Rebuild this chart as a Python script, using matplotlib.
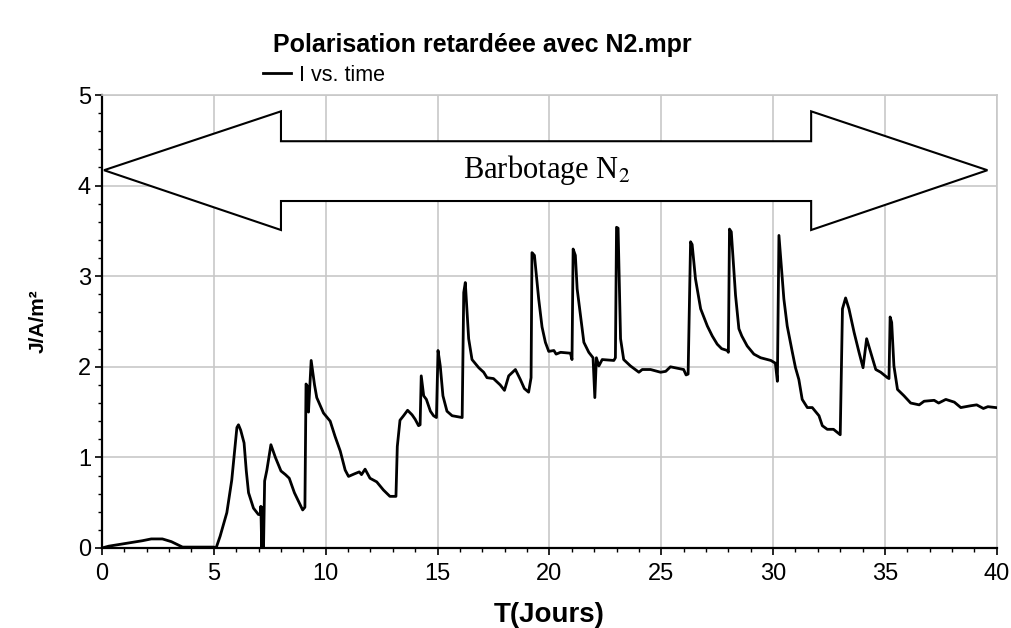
import matplotlib
matplotlib.use("Agg")
import matplotlib.pyplot as plt
from matplotlib.patches import Polygon
from matplotlib.ticker import MultipleLocator

t_days = [0.0, 0.3, 0.8, 1.3, 1.8, 2.2, 2.7, 3.1, 3.6, 4.0, 5.0, 5.1, 5.28, 5.58, 5.8, 6.03, 6.1, 6.2,
          6.35, 6.45, 6.55, 6.77, 6.99, 7.08, 7.1, 7.14, 7.18, 7.22, 7.27, 7.37, 7.55, 7.75, 8.0, 8.2,
          8.37, 8.6, 8.97, 9.07, 9.12, 9.2, 9.23, 9.35, 9.5, 9.6, 9.9, 10.2, 10.42, 10.65, 10.87, 11.02,
          11.3, 11.5, 11.6, 11.76, 11.98, 12.28, 12.58, 12.87, 13.14, 13.2, 13.32, 13.48, 13.66, 13.86,
          14.0, 14.15, 14.22, 14.27, 14.38, 14.5, 14.68, 14.82, 14.95, 15.02, 15.12, 15.24, 15.42, 15.65,
          16.1, 16.17, 16.24, 16.32, 16.39, 16.54, 16.84, 17.06, 17.21, 17.5, 17.8, 17.99, 18.18, 18.48,
          18.7, 18.88, 19.07, 19.18, 19.22, 19.33, 19.52, 19.67, 19.82, 19.97, 20.2, 20.3, 20.5, 20.94,
          21.01, 21.06, 21.16, 21.24, 21.39, 21.54, 21.76, 21.95, 22.03, 22.1, 22.21, 22.36, 22.88, 22.95,
          23.0, 23.07, 23.18, 23.32, 23.62, 24.0, 24.15, 24.52, 24.97, 25.2, 25.41, 26.0, 26.11, 26.2,
          26.31, 26.38, 26.53, 26.76, 27.06, 27.28, 27.5, 27.7, 27.95, 28.0, 28.05, 28.13, 28.32, 28.47,
          28.6, 28.84, 29.14, 29.44, 29.9, 30.1, 30.19, 30.26, 30.33, 30.48, 30.63, 30.86, 31.0, 31.15,
          31.3, 31.53, 31.75, 32.05, 32.2, 32.42, 32.7, 33.0, 33.1, 33.24, 33.39, 33.62, 33.84, 34.02,
          34.18, 34.36, 34.59, 34.81, 35.11, 35.18, 35.23, 35.3, 35.4, 35.56, 35.85, 36.15, 36.53, 36.75,
          37.2, 37.4, 37.72, 38.1, 38.39, 38.83, 39.1, 39.4, 39.6, 39.95]
j_values = [0.0, 0.02, 0.04, 0.06, 0.08, 0.10, 0.10, 0.07, 0.01, 0.01, 0.01, 0.0, 0.13, 0.39, 0.75, 1.33, 1.36, 1.30,
            1.16, 0.85, 0.61, 0.44, 0.37, 0.37, 0.46, 0.0, 0.45, 0.0, 0.74, 0.86, 1.14, 1.00, 0.85, 0.81,
            0.77, 0.61, 0.42, 0.45, 1.81, 1.78, 1.50, 2.07, 1.80, 1.66, 1.49, 1.40, 1.23, 1.07, 0.86, 0.79,
            0.82, 0.84, 0.81, 0.87, 0.77, 0.73, 0.64, 0.57, 0.57, 1.12, 1.41, 1.46, 1.52, 1.47,
            1.42, 1.35, 1.36, 1.90, 1.68, 1.64, 1.51, 1.46, 1.44, 2.18, 2.01, 1.68, 1.51, 1.46,
            1.44, 2.82, 2.93, 2.60, 2.31, 2.08, 1.99, 1.94, 1.88, 1.87, 1.80, 1.74, 1.90, 1.97,
            1.86, 1.76, 1.72, 1.88, 3.26, 3.23, 2.75, 2.44, 2.27, 2.17, 2.18, 2.14, 2.16, 2.15,
            2.08, 3.30, 3.23, 2.86, 2.56, 2.27, 2.16, 2.10, 1.66, 2.10, 2.01, 2.08, 2.07, 2.10,
            3.54, 3.53, 2.31, 2.08, 2.01, 1.94, 1.97, 1.97, 1.94, 1.95, 2.00, 1.97, 1.91, 1.92,
            3.38, 3.35, 2.97, 2.64, 2.45, 2.34, 2.25, 2.20, 2.18, 2.16, 3.52, 3.49, 2.79, 2.42,
            2.34, 2.23, 2.14, 2.10, 2.07, 2.04, 1.84, 3.45, 3.23, 2.75, 2.45, 2.16, 1.99, 1.86,
            1.64, 1.55, 1.55, 1.46, 1.35, 1.31, 1.31, 1.25, 2.64, 2.76, 2.64, 2.38, 2.16, 1.99,
            2.31, 2.16, 1.97, 1.94, 1.88, 1.87, 2.55, 2.49, 2.01, 1.75, 1.68, 1.60, 1.58, 1.62,
            1.63, 1.60, 1.64, 1.61, 1.55, 1.57, 1.58, 1.54, 1.56, 1.55]

# Double arrow annotation outline (data coordinates)
arrow_x = [0.09, 8.0, 8.0, 31.7, 31.7, 39.58, 31.7, 31.7, 8.0, 8.0]
arrow_y = [4.17, 4.82, 4.49, 4.49, 4.82, 4.17, 3.51, 3.83, 3.83, 3.51]

x_ticks = [0, 5, 10, 15, 20, 25, 30, 35, 40]
y_ticks = [0, 1, 2, 3, 4, 5]

plt.rcParams['font.family'] = ['Liberation Sans', 'DejaVu Sans']

fig = plt.figure(figsize=(10.12, 6.28), dpi=100)
ax = fig.add_axes([0.1008, 0.1274, 0.8842, 0.7213])

ax.plot(t_days, j_values, color='black', lw=2.0, label='I vs. time', zorder=4)

poly = Polygon(list(zip(arrow_x, arrow_y)), closed=True, facecolor='white',
               edgecolor='black', lw=1.5, zorder=3)
ax.add_patch(poly)
ax.text(19.9, 4.17, r'Barbotage N$_2$', fontsize=22, family='Liberation Serif',
        ha='center', va='center', zorder=5, math_fontfamily='stix')

ax.set_xlim(0, 40)
ax.set_ylim(0, 5)
ax.set_xticks(x_ticks)
ax.set_yticks(y_ticks)
ax.xaxis.set_minor_locator(MultipleLocator(1))
ax.yaxis.set_minor_locator(MultipleLocator(0.2))
ax.tick_params(which='major', direction='out', length=5, width=1.2, labelsize=17, pad=3)
ax.tick_params(axis='x', which='major', pad=6)
ax.tick_params(which='minor', direction='out', length=3, width=1.0)
ax.grid(True, which='major', color='#c8c8c8', lw=1.2, zorder=0)
ax.set_axisbelow(True)

for s in ['left', 'bottom']:
    ax.spines[s].set_color('black')
    ax.spines[s].set_linewidth(1.6)
for s in ['top', 'right']:
    ax.spines[s].set_color('#c8c8c8')
    ax.spines[s].set_linewidth(1.2)

ax.set_xlabel('T(Jours)', fontsize=20, fontweight='bold', labelpad=12)
ax.set_ylabel('J/A/m²', fontsize=15, fontweight='bold', labelpad=22)

fig.text(0.477, 0.928, 'Polarisation retardéee avec N2.mpr', fontsize=18,
         fontweight='bold', ha='center', va='center')
leg = fig.legend(loc='center left', bbox_to_anchor=(0.251, 0.88), frameon=False,
                 fontsize=15.5, handlelength=1.3, handletextpad=0.4, borderaxespad=0)

fig.savefig('out.png', dpi=100)
